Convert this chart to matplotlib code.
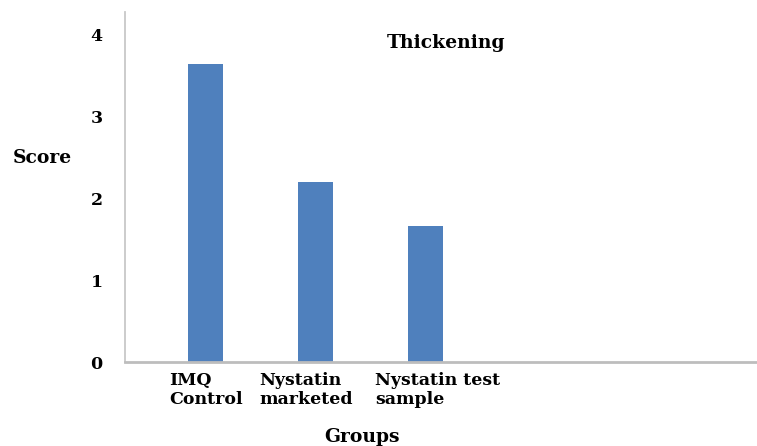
import matplotlib.pyplot as plt
from matplotlib.transforms import ScaledTranslation

groups = ['IMQ\nControl', 'Nystatin\nmarketed', 'Nystatin test\nsample']
scores = [3.65, 2.2, 1.66]
yticks = [0, 1, 2, 3, 4]

plt.rcParams['font.family'] = ['DejaVu Serif']
plt.rcParams['font.weight'] = 'bold'

fig = plt.figure(figsize=(7.57, 4.46), dpi=100)
ax = fig.add_axes([0.165, 0.188, 0.835, 0.785])

x = list(range(len(groups)))
ax.bar(x, scores, width=0.32, color='#4f80bd')

ax.set_xlim(-0.736, 5.01)
ax.set_ylim(0, 4.28)

ax.set_yticks(yticks)
ax.set_yticklabels([str(t) for t in yticks], fontsize=12.5, fontweight='bold')
ax.tick_params(axis='y', length=0, pad=16)

ax.set_xticks(x)
ax.set_xticklabels(groups, fontsize=12.5, fontweight='bold',
                   multialignment='left', linespacing=1.2)
ax.tick_params(axis='x', length=0, pad=7)

# nudge the group labels sideways a little (in inches)
shifts = [0.0, -0.1, 0.12]
for lbl, dx in zip(ax.get_xticklabels(), shifts):
    lbl.set_transform(lbl.get_transform() + ScaledTranslation(dx, 0, fig.dpi_scale_trans))

for s in ['top', 'right']:
    ax.spines[s].set_visible(False)
ax.spines['left'].set_color('#c8c8c8')
ax.spines['left'].set_linewidth(1.3)
ax.spines['bottom'].set_color('#bdbdbd')
ax.spines['bottom'].set_linewidth(2)

ax.text(0.508, 0.911, 'Thickening', transform=ax.transAxes, fontsize=13.5,
        fontweight='bold', ha='center', va='center')
fig.text(0.056, 0.646, 'Score', fontsize=13.5, fontweight='bold',
         ha='center', va='center')
fig.text(0.478, 0.02, 'Groups', fontsize=13.5, fontweight='bold',
         ha='center', va='center')

fig.savefig('out.png', dpi=100)
